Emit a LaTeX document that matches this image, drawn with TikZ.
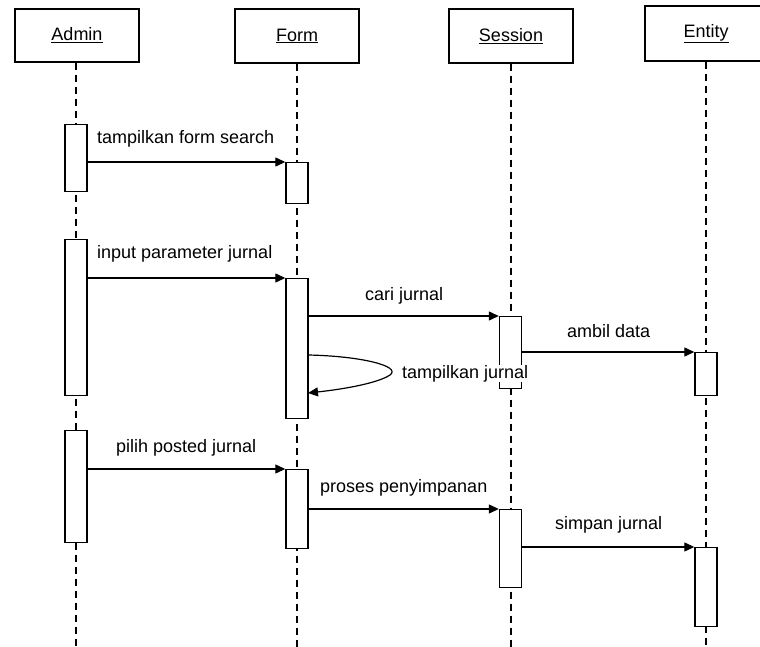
\documentclass[tikz,border=0pt]{standalone}
\usepackage{fontspec}
\setmainfont{Liberation Sans}
\usetikzlibrary{arrows.meta}
\begin{document}
\begin{tikzpicture}[x=1pt,y=-1pt,
  actor/.style={draw, line width=1.4pt, fill=white, minimum width=124pt, minimum height=53pt, inner sep=0pt, font=\fontsize{18}{20}\selectfont},
  act/.style={draw, line width=1.4pt, fill=white, minimum width=22pt, inner sep=0pt, anchor=north},
  life/.style={line width=1.4pt, dash pattern=on 7pt off 5pt},
  msg/.style={line width=1.2pt, -{Triangle[length=10pt,width=9pt]}},
  lbl/.style={inner sep=0pt, anchor=base west, font=\fontsize{18}{20}\selectfont}]
\useasboundingbox (0,0) rectangle (760,647);
\begin{scope}
\clip (0,0) rectangle (760,647);
% actors
\node[actor] (admin) at (77,35.5) {\underline{Admin}};
\node[actor, minimum height=54pt] (form) at (297,36) {\underline{Form}};
\node[actor, minimum height=54pt] (session) at (511,36) {\underline{Session}};
\node[actor, minimum width=122pt, minimum height=55pt] (entity) at (706,33.5) {\underline{Entity}};
% lifelines
\coordinate (adminE) at (76,647);
\coordinate (formE) at (297,647);
\coordinate (sessionE) at (511,647);
\coordinate (entityE) at (706,647);
\draw[life] (admin.south -| adminE) -- (adminE);
\draw[life] (form.south -| formE) -- (formE);
\draw[life] (session.south -| sessionE) -- (sessionE);
\draw[life] (entity.south -| entityE) -- (entityE);
% activations
\node[act, minimum height=67pt] (a1) at (76,124) {};
\node[act, minimum height=41pt] (f1) at (297,162) {};
\node[act, minimum height=156pt] (a2) at (76,239) {};
\node[act, minimum height=140pt] (f2) at (297,278) {};
\node[act, minimum height=72pt] (s1) at (510.5,316) {};
\node[act, minimum height=43pt] (e1) at (706,352) {};
\node[act, minimum height=112pt] (a3) at (76,430) {};
\node[act, minimum height=79pt] (f3) at (297,469) {};
\node[act, minimum height=78pt] (s2) at (510.5,509) {};
\node[act, minimum height=79pt] (e2) at (706,547) {};
% messages
\draw[msg] (a1.east |- f1.north west) -- (f1.north west);
\draw[msg] (a2.east |- f2.north west) -- (f2.north west);
\draw[msg] (f2.east |- s1.north west) -- (s1.north west);
\draw[msg] (s1.east |- e1.north west) -- (e1.north west);
\draw[msg] (a3.east |- f3.north west) -- (f3.north west);
\draw[msg] (f3.east |- s2.north west) -- (s2.north west);
\draw[msg] (s2.east |- e2.north west) -- (e2.north west);
\coordinate (loopA) at (308,355);
\coordinate (loopB) at (390,375);
\coordinate (loopC) at (308,393);
\draw[msg] (loopA) .. controls (360,356) and (402,366) .. (loopB) .. controls (378,383) and (345,389) .. (loopC);
% labels
\node[lbl] (l1) at (97,144) {tampilkan form search};
\node[lbl] (l2) at (97,258) {input parameter jurnal};
\node[lbl] (l3) at (365,300) {cari jurnal};
\node[lbl, fill=white] (l4) at (402,378) {tampilkan jurnal};
\node[lbl] (l5) at (567,337) {ambil data};
\node[lbl] (l6) at (116,452) {pilih posted jurnal};
\node[lbl] (l7) at (320,492) {proses penyimpanan};
\node[lbl] (l8) at (555,529) {simpan jurnal};
\end{scope}
\end{tikzpicture}
\end{document}
